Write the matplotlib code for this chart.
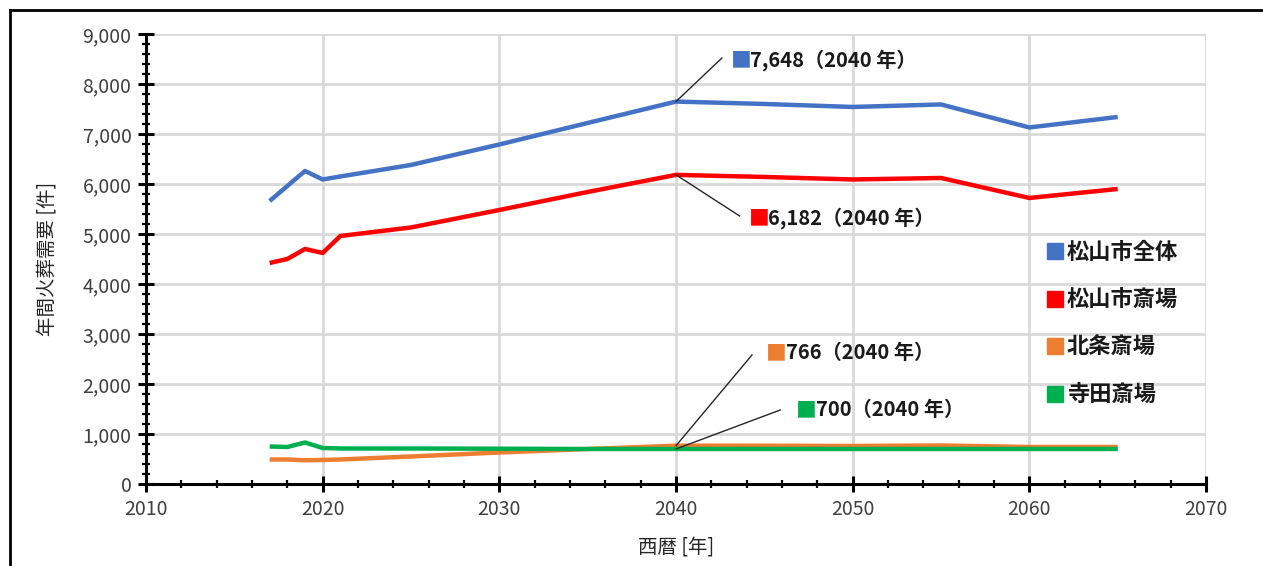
import matplotlib

matplotlib.use("Agg")
import matplotlib.pyplot as plt
from matplotlib.lines import Line2D
from matplotlib.ticker import FuncFormatter, MultipleLocator

plt.rcParams["font.family"] = ["Noto Sans CJK JP", "DejaVu Sans"]

# 年間火葬需要の推計（読み取り値）
years = [2017, 2018, 2019, 2020, 2021, 2025, 2030, 2035, 2040, 2045, 2050, 2055, 2060, 2065]
matsuyama_all = [5660, 5960, 6260, 6090, 6150, 6380, 6790, 7220, 7648, 7600, 7540, 7590, 7130, 7340]
matsuyama_saijo = [4420, 4500, 4700, 4620, 4960, 5130, 5480, 5840, 6182, 6140, 6090, 6120, 5720, 5900]
hojo_saijo = [490, 490, 475, 480, 490, 550, 630, 700, 766, 765, 760, 770, 740, 740]
terada_saijo = [750, 740, 830, 720, 710, 710, 705, 700, 700, 700, 700, 700, 700, 700]

series_names = ["松山市全体", "松山市斎場", "北条斎場", "寺田斎場"]
series_values = [matsuyama_all, matsuyama_saijo, hojo_saijo, terada_saijo]
colors = ["#4472C4", "#FF0000", "#ED7D31", "#00B050"]

peak_year = 2040
peak_labels = ["7,648（2040 年）", "6,182（2040 年）", "766（2040 年）", "700（2040 年）"]
# callout text anchor (year, value) and leader line end for each series
label_pos = [(2043.1, 8480), (2044.1, 5320), (2045.1, 2620), (2046.8, 1480)]
line_end = [(2042.6, 8520), (2043.6, 5360), (2044.3, 2580), (2045.9, 1480)]

fig = plt.figure(figsize=(12.63, 5.66), dpi=100)
ax = fig.add_axes([0.1156, 0.1449, 0.8393, 0.7951])

for name, vals, c in zip(series_names, series_values, colors):
    ax.plot(years, vals, color=c, lw=3.2, solid_capstyle="butt", zorder=3, label=name)

# callouts
for vals, c, txt, pos, end in zip(series_values, colors, peak_labels, label_pos, line_end):
    yv = vals[years.index(peak_year)]
    ax.plot([peak_year, end[0]], [yv, end[1]], color="#262626", lw=1.0, zorder=4)
    sq = ax.text(pos[0], pos[1], "■", color=c, fontsize=15, va="center", ha="left", zorder=5)
    ax.annotate(txt, xy=(1, 0.5), xycoords=sq, xytext=(-1, 0), textcoords="offset points",
                va="center", ha="left", fontsize=14.5, fontweight="bold", color="#1a1a1a", zorder=5)

ax.set_xlim(2010, 2070)
ax.set_ylim(0, 9000)
ax.xaxis.set_major_locator(MultipleLocator(10))
ax.xaxis.set_minor_locator(MultipleLocator(2))
ax.yaxis.set_major_locator(MultipleLocator(1000))
ax.yaxis.set_minor_locator(MultipleLocator(200))
ax.yaxis.set_major_formatter(FuncFormatter(lambda v, p: f"{int(v):,}"))

ax.grid(True, which="major", color="#d9d9d9", lw=2.0, zorder=0)
ax.set_axisbelow(True)
for side in ["top", "right"]:
    ax.spines[side].set_visible(False)
for side in ["left", "bottom"]:
    ax.spines[side].set_linewidth(2.2)
    ax.spines[side].set_color("black")

ax.tick_params(which="major", direction="inout", length=11, width=2.2, labelsize=14,
               labelcolor="#404040", pad=5)
ax.tick_params(which="minor", direction="inout", length=6, width=1.6)

ax.set_xlabel("西暦 [年]", fontsize=14, color="#262626", labelpad=12)
ax.set_ylabel("年間火葬需要 [件]", fontsize=14, color="#262626", labelpad=18)

handles = [Line2D([], [], marker="s", linestyle="none", markersize=12, color=c) for c in colors]
leg = ax.legend(handles, series_names, loc="upper left", bbox_to_anchor=(0.821, 0.59),
                bbox_transform=fig.transFigure, frameon=False, handlelength=0.8,
                handletextpad=0.15, labelspacing=1.1, borderaxespad=0,
                prop={"size": 16, "weight": "bold"})
for t in leg.get_texts():
    t.set_color("#1a1a1a")

# outer frame (top and left edges)
fig.add_artist(Line2D([0.008, 1.0], [0.982, 0.982], transform=fig.transFigure, color="black", lw=2))
fig.add_artist(Line2D([0.008, 0.008], [0.0, 0.982], transform=fig.transFigure, color="black", lw=2))

fig.savefig("out.png", dpi=100)
